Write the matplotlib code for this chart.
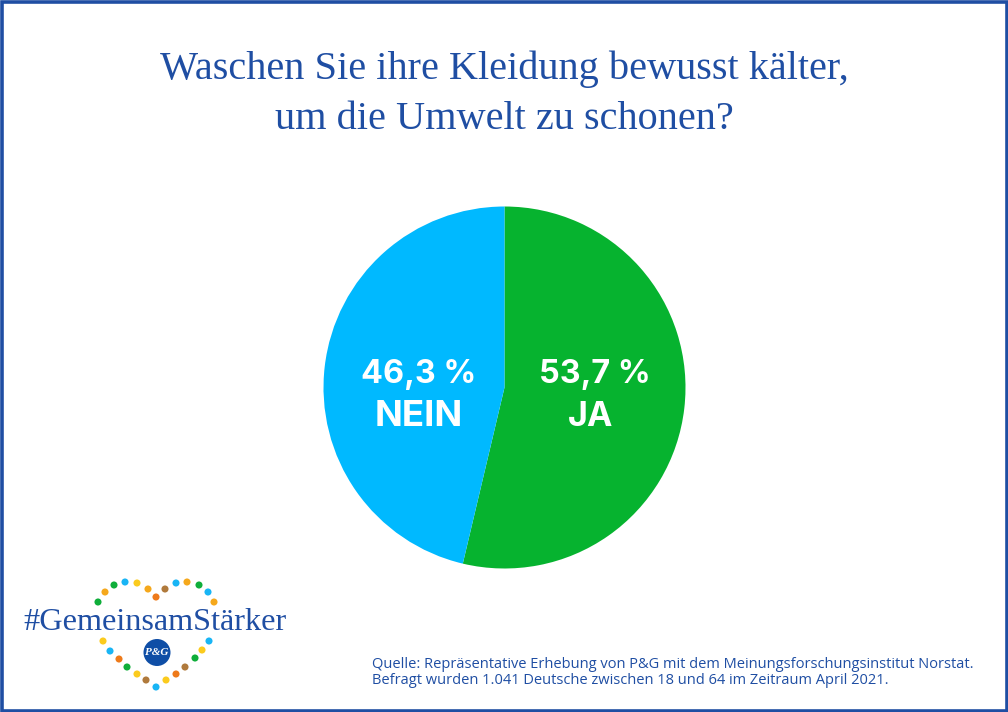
import matplotlib
matplotlib.use("Agg")
import matplotlib.pyplot as plt
from matplotlib.patches import Rectangle, Circle

W, H = 1008, 712
BLUE = "#1f4ea3"

labels = ["JA", "NEIN"]
values = [53.7, 46.3]
value_labels = ["53,7 %", "46,3 %"]
colors = ["#06b32f", "#00b9ff"]

title_lines = ["Waschen Sie ihre Kleidung bewusst kälter,", "um die Umwelt zu schonen?"]
source_lines = ["Quelle: Repräsentative Erhebung von P&G mit dem Meinungsforschungsinstitut Norstat.",
                "Befragt wurden 1.041 Deutsche zwischen 18 und 64 im Zeitraum April 2021."]

# heart dots of the logo, pixel positions
dot_x = [98, 105, 114, 125, 137, 148, 156, 165, 176, 187, 199, 208, 214,
         103, 110, 119, 127, 137, 146, 156, 166, 176, 185, 195, 202, 209]
dot_y = [602, 592, 585, 582, 583, 589, 597, 589, 583, 582, 585, 592, 602,
         641, 651, 659, 667, 674, 680, 687, 680, 674, 667, 658, 650, 641]
dot_c = ["#0fae3a", "#f5a81c", "#0fae3a", "#19b5f5", "#fbcb1e", "#f5a81c", "#ee7a1a", "#b07a3c",
         "#19b5f5", "#f5a81c", "#0fae3a", "#19b5f5", "#f5a81c",
         "#fbcb1e", "#19b5f5", "#ee7a1a", "#0fae3a", "#fbcb1e", "#b07a3c", "#19b5f5", "#fbcb1e",
         "#ee7a1a", "#b07a3c", "#0fae3a", "#fbcb1e", "#19b5f5"]

fig = plt.figure(figsize=(W / 100, H / 100), dpi=100, facecolor="white")

# page layer in pixels
page = fig.add_axes([0, 0, 1, 1])
page.set_xlim(0, W)
page.set_ylim(H, 0)
page.axis("off")
page.add_patch(Rectangle((1.5, 1.5), W - 3, H - 3, fill=False, ec=BLUE, lw=2.6))

for line, y in zip(title_lines, [69, 119.5]):
    page.text(504, y, line, ha="center", va="center", color=BLUE, fontsize=29, family="Liberation Serif")

for line, y in zip(source_lines, [665, 681]):
    page.text(372, y, line, ha="left", va="center", color=BLUE, fontsize=10.55, family="Open Sans")

page.scatter(dot_x, dot_y, s=26, c=dot_c, linewidths=0)
page.text(154.5, 623, "#GemeinsamStärker", ha="center", va="center", color=BLUE, fontsize=23.2,
          family="Liberation Serif")
page.add_patch(Circle((157, 652.5), 13.5, fc="#0f4ea6", ec="none"))
page.text(157, 652.5, "P&G", ha="center", va="center", color="white", fontsize=8, style="italic",
          weight="bold", family="Liberation Serif")

# pie
cx, cy, r = 504.5, 387.5, 181
ax = fig.add_axes([(cx - r) / W, 1 - (cy + r) / H, 2 * r / W, 2 * r / H])
ax.pie(values, colors=colors, startangle=90, counterclock=False, radius=1,
       wedgeprops={"linewidth": 0})
ax.set_xlim(-1, 1)
ax.set_ylim(-1, 1)

for x, val, lab in zip([594.5, 418.5], value_labels, labels):
    page.text(x, 374, val, ha="center", va="center", color="white", fontsize=23.3, weight="bold",
              family="Inter", zorder=5)
    page.text(x - 4 if lab == "JA" else x, 417, lab, ha="center", va="center", color="white",
              fontsize=24.5 if lab == "JA" else 26.5, weight="bold", family="Inter", zorder=5)
ax.set_zorder(1)
page.set_zorder(2)
page.patch.set_alpha(0)

fig.savefig("out.png", dpi=100)
